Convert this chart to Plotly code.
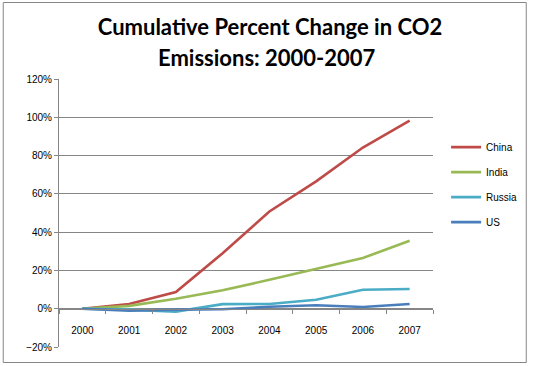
import plotly.graph_objects as go

years = ["2000", "2001", "2002", "2003", "2004", "2005", "2006", "2007"]
china = [0.0, 0.025, 0.087, 0.29, 0.508, 0.665, 0.842, 0.982]
india = [0.0, 0.015, 0.052, 0.096, 0.151, 0.207, 0.265, 0.355]
russia = [0.0, -0.005, -0.015, 0.024, 0.025, 0.047, 0.099, 0.103]
us = [0.0, -0.01, -0.005, -0.003, 0.01, 0.018, 0.009, 0.025]

title_lines = ["Cumulative Percent Change in CO2", "Emissions: 2000-2007"]

series = [("China", china, "#BE4B48"), ("India", india, "#98B954"),
          ("Russia", russia, "#4BACC6"), ("US", us, "#4A7EBB")]

W, H = 535, 366
ML, MR, MT, MB = 59, 97, 79, 19
PW, PH = W - ML - MR, H - MT - MB
yrange = [-0.2, 1.2]
TCX = 270  # title centre, px

fig = go.Figure()
for i, (name, vals, col) in enumerate(series):
    fig.add_trace(go.Scatter(x=years, y=vals, name=name, mode="lines",
                             line=dict(color=col, width=2.6),
                             legendgroup=f"g{i}"))

grid = "#868686"
zero_pos = (0 - yrange[0]) / (yrange[1] - yrange[0])
tfont = dict(family="Lato, Carlito, sans-serif", size=22, color="black")

fig.update_layout(
    width=W, height=H,
    margin=dict(l=ML, r=MR, t=MT, b=MB),
    paper_bgcolor="white", plot_bgcolor="white",
    font=dict(family="Liberation Sans, Arial, sans-serif", size=10, color="black"),
    title=dict(text=f"<b>{title_lines[0]}</b>",
               x=TCX / W, xanchor="center", xref="container", yref="container",
               y=1 - 27 / H, yanchor="middle", font=tfont),
    annotations=[dict(text=f"<b>{title_lines[1]}</b>", xref="paper", yref="paper",
                      x=(TCX - ML) / PW, xanchor="center", y=1 + (MT - 58) / PH,
                      yanchor="middle", showarrow=False, font=tfont)],
    showlegend=True,
    legend=dict(x=1.035, y=0.80, xanchor="left", yanchor="top",
                font=dict(size=10), traceorder="grouped", tracegroupgap=6,
                itemwidth=30, bgcolor="rgba(0,0,0,0)"),
    xaxis=dict(type="category", anchor="free", position=zero_pos,
               showline=True, linecolor=grid, linewidth=1,
               ticks="outside", ticklen=4, tickcolor=grid, tickson="boundaries",
               showgrid=False, zeroline=False, ticklabelstandoff=12,
               range=[-0.5, len(years) - 0.5]),
    yaxis=dict(range=yrange, dtick=0.2, tickformat=".0%",
               showline=True, linecolor=grid, linewidth=1,
               ticks="outside", ticklen=4, tickcolor=grid,
               showgrid=True, gridcolor=grid, gridwidth=1, zeroline=False),
    shapes=[dict(type="rect", xref="paper", yref="paper",
                 x0=(2.5 - ML) / PW, x1=(W - 2.5 - ML) / PW,
                 y0=-(MB - 3.5) / PH, y1=1 + (MT - 2.5) / PH,
                 line=dict(color="#868686", width=1), layer="below")],
)

fig.write_html("out.html", config={"displayModeBar": False},
               post_script="document.body.style.margin='0';document.body.style.padding='0';")
